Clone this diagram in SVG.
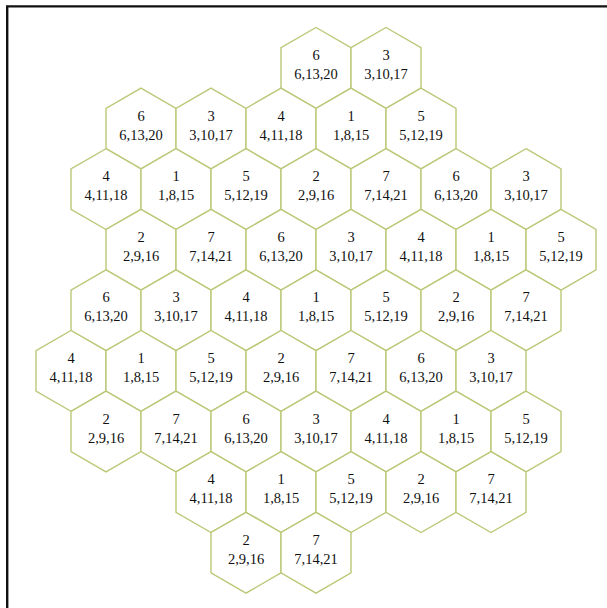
<svg xmlns="http://www.w3.org/2000/svg" xmlns:xlink="http://www.w3.org/1999/xlink" width="607" height="608" viewBox="0 0 607 608">
<style>
.hex{fill:#fff;stroke:#bcc878;stroke-width:1.4}
.t{font-family:"Liberation Serif","Times New Roman",serif;font-size:14.5px;fill:#111;text-anchor:middle}
</style>
<defs>
<polygon id="hx" class="hex" points="0,-40.4 35,-20.2 35,20.2 0,40.4 -35,20.2 -35,-20.2"/>
</defs>
<rect width="607" height="608" fill="#fff"/>
<path d="M7.2,620 V6.4 H620" fill="none" stroke="#111" stroke-width="2.4"/>
<g id="hexes">
<!-- row 1 -->
<g id="r1c1" transform="translate(316,67.9)"><use xlink:href="#hx" href="#hx"/><text class="t" y="-8">6</text><text class="t" y="11">6,13,20</text></g>
<g id="r1c2" transform="translate(386,67.9)"><use xlink:href="#hx" href="#hx"/><text class="t" y="-8">3</text><text class="t" y="11">3,10,17</text></g>
<!-- row 2 -->
<g id="r2c1" transform="translate(141,128.5)"><use xlink:href="#hx" href="#hx"/><text class="t" y="-8">6</text><text class="t" y="11">6,13,20</text></g>
<g id="r2c2" transform="translate(211,128.5)"><use xlink:href="#hx" href="#hx"/><text class="t" y="-8">3</text><text class="t" y="11">3,10,17</text></g>
<g id="r2c3" transform="translate(281,128.5)"><use xlink:href="#hx" href="#hx"/><text class="t" y="-8">4</text><text class="t" y="11">4,11,18</text></g>
<g id="r2c4" transform="translate(351,128.5)"><use xlink:href="#hx" href="#hx"/><text class="t" y="-8">1</text><text class="t" y="11">1,8,15</text></g>
<g id="r2c5" transform="translate(421,128.5)"><use xlink:href="#hx" href="#hx"/><text class="t" y="-8">5</text><text class="t" y="11">5,12,19</text></g>
<!-- row 3 -->
<g id="r3c1" transform="translate(106,189.1)"><use xlink:href="#hx" href="#hx"/><text class="t" y="-8">4</text><text class="t" y="11">4,11,18</text></g>
<g id="r3c2" transform="translate(176,189.1)"><use xlink:href="#hx" href="#hx"/><text class="t" y="-8">1</text><text class="t" y="11">1,8,15</text></g>
<g id="r3c3" transform="translate(246,189.1)"><use xlink:href="#hx" href="#hx"/><text class="t" y="-8">5</text><text class="t" y="11">5,12,19</text></g>
<g id="r3c4" transform="translate(316,189.1)"><use xlink:href="#hx" href="#hx"/><text class="t" y="-8">2</text><text class="t" y="11">2,9,16</text></g>
<g id="r3c5" transform="translate(386,189.1)"><use xlink:href="#hx" href="#hx"/><text class="t" y="-8">7</text><text class="t" y="11">7,14,21</text></g>
<g id="r3c6" transform="translate(456,189.1)"><use xlink:href="#hx" href="#hx"/><text class="t" y="-8">6</text><text class="t" y="11">6,13,20</text></g>
<g id="r3c7" transform="translate(526,189.1)"><use xlink:href="#hx" href="#hx"/><text class="t" y="-8">3</text><text class="t" y="11">3,10,17</text></g>
<!-- row 4 -->
<g id="r4c1" transform="translate(141,249.7)"><use xlink:href="#hx" href="#hx"/><text class="t" y="-8">2</text><text class="t" y="11">2,9,16</text></g>
<g id="r4c2" transform="translate(211,249.7)"><use xlink:href="#hx" href="#hx"/><text class="t" y="-8">7</text><text class="t" y="11">7,14,21</text></g>
<g id="r4c3" transform="translate(281,249.7)"><use xlink:href="#hx" href="#hx"/><text class="t" y="-8">6</text><text class="t" y="11">6,13,20</text></g>
<g id="r4c4" transform="translate(351,249.7)"><use xlink:href="#hx" href="#hx"/><text class="t" y="-8">3</text><text class="t" y="11">3,10,17</text></g>
<g id="r4c5" transform="translate(421,249.7)"><use xlink:href="#hx" href="#hx"/><text class="t" y="-8">4</text><text class="t" y="11">4,11,18</text></g>
<g id="r4c6" transform="translate(491,249.7)"><use xlink:href="#hx" href="#hx"/><text class="t" y="-8">1</text><text class="t" y="11">1,8,15</text></g>
<g id="r4c7" transform="translate(561,249.7)"><use xlink:href="#hx" href="#hx"/><text class="t" y="-8">5</text><text class="t" y="11">5,12,19</text></g>
<!-- row 5 -->
<g id="r5c1" transform="translate(106,310.3)"><use xlink:href="#hx" href="#hx"/><text class="t" y="-8">6</text><text class="t" y="11">6,13,20</text></g>
<g id="r5c2" transform="translate(176,310.3)"><use xlink:href="#hx" href="#hx"/><text class="t" y="-8">3</text><text class="t" y="11">3,10,17</text></g>
<g id="r5c3" transform="translate(246,310.3)"><use xlink:href="#hx" href="#hx"/><text class="t" y="-8">4</text><text class="t" y="11">4,11,18</text></g>
<g id="r5c4" transform="translate(316,310.3)"><use xlink:href="#hx" href="#hx"/><text class="t" y="-8">1</text><text class="t" y="11">1,8,15</text></g>
<g id="r5c5" transform="translate(386,310.3)"><use xlink:href="#hx" href="#hx"/><text class="t" y="-8">5</text><text class="t" y="11">5,12,19</text></g>
<g id="r5c6" transform="translate(456,310.3)"><use xlink:href="#hx" href="#hx"/><text class="t" y="-8">2</text><text class="t" y="11">2,9,16</text></g>
<g id="r5c7" transform="translate(526,310.3)"><use xlink:href="#hx" href="#hx"/><text class="t" y="-8">7</text><text class="t" y="11">7,14,21</text></g>
<!-- row 6 -->
<g id="r6c1" transform="translate(71,370.9)"><use xlink:href="#hx" href="#hx"/><text class="t" y="-8">4</text><text class="t" y="11">4,11,18</text></g>
<g id="r6c2" transform="translate(141,370.9)"><use xlink:href="#hx" href="#hx"/><text class="t" y="-8">1</text><text class="t" y="11">1,8,15</text></g>
<g id="r6c3" transform="translate(211,370.9)"><use xlink:href="#hx" href="#hx"/><text class="t" y="-8">5</text><text class="t" y="11">5,12,19</text></g>
<g id="r6c4" transform="translate(281,370.9)"><use xlink:href="#hx" href="#hx"/><text class="t" y="-8">2</text><text class="t" y="11">2,9,16</text></g>
<g id="r6c5" transform="translate(351,370.9)"><use xlink:href="#hx" href="#hx"/><text class="t" y="-8">7</text><text class="t" y="11">7,14,21</text></g>
<g id="r6c6" transform="translate(421,370.9)"><use xlink:href="#hx" href="#hx"/><text class="t" y="-8">6</text><text class="t" y="11">6,13,20</text></g>
<g id="r6c7" transform="translate(491,370.9)"><use xlink:href="#hx" href="#hx"/><text class="t" y="-8">3</text><text class="t" y="11">3,10,17</text></g>
<!-- row 7 -->
<g id="r7c1" transform="translate(106,431.5)"><use xlink:href="#hx" href="#hx"/><text class="t" y="-8">2</text><text class="t" y="11">2,9,16</text></g>
<g id="r7c2" transform="translate(176,431.5)"><use xlink:href="#hx" href="#hx"/><text class="t" y="-8">7</text><text class="t" y="11">7,14,21</text></g>
<g id="r7c3" transform="translate(246,431.5)"><use xlink:href="#hx" href="#hx"/><text class="t" y="-8">6</text><text class="t" y="11">6,13,20</text></g>
<g id="r7c4" transform="translate(316,431.5)"><use xlink:href="#hx" href="#hx"/><text class="t" y="-8">3</text><text class="t" y="11">3,10,17</text></g>
<g id="r7c5" transform="translate(386,431.5)"><use xlink:href="#hx" href="#hx"/><text class="t" y="-8">4</text><text class="t" y="11">4,11,18</text></g>
<g id="r7c6" transform="translate(456,431.5)"><use xlink:href="#hx" href="#hx"/><text class="t" y="-8">1</text><text class="t" y="11">1,8,15</text></g>
<g id="r7c7" transform="translate(526,431.5)"><use xlink:href="#hx" href="#hx"/><text class="t" y="-8">5</text><text class="t" y="11">5,12,19</text></g>
<!-- row 8 -->
<g id="r8c1" transform="translate(211,492.1)"><use xlink:href="#hx" href="#hx"/><text class="t" y="-8">4</text><text class="t" y="11">4,11,18</text></g>
<g id="r8c2" transform="translate(281,492.1)"><use xlink:href="#hx" href="#hx"/><text class="t" y="-8">1</text><text class="t" y="11">1,8,15</text></g>
<g id="r8c3" transform="translate(351,492.1)"><use xlink:href="#hx" href="#hx"/><text class="t" y="-8">5</text><text class="t" y="11">5,12,19</text></g>
<g id="r8c4" transform="translate(421,492.1)"><use xlink:href="#hx" href="#hx"/><text class="t" y="-8">2</text><text class="t" y="11">2,9,16</text></g>
<g id="r8c5" transform="translate(491,492.1)"><use xlink:href="#hx" href="#hx"/><text class="t" y="-8">7</text><text class="t" y="11">7,14,21</text></g>
<!-- row 9 -->
<g id="r9c1" transform="translate(246,552.7)"><use xlink:href="#hx" href="#hx"/><text class="t" y="-8">2</text><text class="t" y="11">2,9,16</text></g>
<g id="r9c2" transform="translate(316,552.7)"><use xlink:href="#hx" href="#hx"/><text class="t" y="-8">7</text><text class="t" y="11">7,14,21</text></g>
</g>
<g id="connectors"/>
</svg>
